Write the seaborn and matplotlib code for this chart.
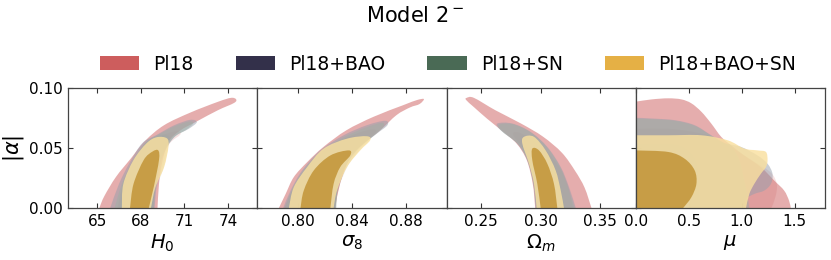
import numpy as np
import matplotlib
matplotlib.use("Agg")
import matplotlib.pyplot as plt
from matplotlib.path import Path
from matplotlib.patches import PathPatch, Patch
from matplotlib.ticker import FormatStrFormatter
import seaborn as sns

# ---------------- data (contour outlines) ----------------
datasets = ["Pl18", "Pl18+BAO", "Pl18+SN", "Pl18+BAO+SN"]
params = ["H0", "s8", "Om", "mu"]
xlabels = [r"$H_0$", r"$\sigma_8$", r"$\Omega_m$", r"$\mu$"]
xlims = [(63.0, 76.0), (0.770, 0.910), (0.221, 0.380), (0.0, 1.785)]
xticks = [[65, 68, 71, 74], [0.80, 0.84, 0.88], [0.25, 0.30, 0.35], [0.0, 0.5, 1.0, 1.5]]
xfmt = ["%d", "%.2f", "%.2f", "%.1f"]
yticks = [0.00, 0.05, 0.10]
ylim = (0.0, 0.10)

# H0 vs |alpha|
H0_pl18_95 = [(65.15, 0), (65.5, 0.010), (66.3, 0.026), (67.3, 0.041), (68.3, 0.056), (69.6, 0.069),
              (71.4, 0.0795), (73.3, 0.0885), (74.2, 0.0918), (74.55, 0.0905), (74.4, 0.0875),
              (73.3, 0.0815), (71.9, 0.0725), (70.7, 0.0645), (69.9, 0.055), (69.45, 0.037),
              (69.25, 0.020), (69.15, 0)]
H0_pl18_68 = [(66.4, 0), (66.8, 0.020), (67.6, 0.040), (68.7, 0.055), (69.8, 0.062), (70.6, 0.064),
              (70.7, 0.061), (70.0, 0.054), (69.4, 0.040), (69.0, 0.020), (68.9, 0)]
H0_bao_95 = [(65.9, 0), (66.5, 0.020), (67.2, 0.037), (68.1, 0.054), (69.1, 0.061), (70.3, 0.069),
             (71.4, 0.0735), (71.85, 0.0715), (71.3, 0.066), (70.3, 0.059), (69.5, 0.043),
             (69.1, 0.020), (68.95, 0)]
H0_bao_68 = [(66.5, 0), (66.8, 0.020), (67.5, 0.040), (68.4, 0.055), (69.3, 0.061), (69.95, 0.060),
             (69.9, 0.052), (69.6, 0.035), (69.1, 0.017), (68.8, 0)]
H0_sn_95 = [(66.2, 0), (66.7, 0.020), (67.4, 0.038), (68.3, 0.054), (69.2, 0.061), (70.3, 0.068),
            (71.3, 0.072), (71.6, 0.0705), (71.1, 0.065), (70.2, 0.058), (69.4, 0.042),
            (69.0, 0.020), (68.9, 0)]
H0_sn_68 = [(66.6, 0), (66.9, 0.020), (67.6, 0.040), (68.5, 0.054), (69.3, 0.060), (69.9, 0.059),
            (69.8, 0.051), (69.5, 0.034), (69.0, 0.017), (68.75, 0)]
H0_all_95 = [(66.7, 0), (66.8, 0.020), (67.5, 0.040), (68.4, 0.054), (69.1, 0.059), (69.8, 0.058),
             (69.9, 0.051), (69.6, 0.034), (69.0, 0.017), (68.7, 0)]
H0_all_68 = [(67.26, 0), (67.5, 0.020), (68.2, 0.040), (68.8, 0.047), (69.2, 0.048), (69.25, 0.040),
             (68.9, 0.018), (68.55, 0)]

# sigma8 vs |alpha|
s8_pl18_95 = [(0.786, 0), (0.791, 0.0117), (0.797, 0.0257), (0.807, 0.0383), (0.819, 0.0509),
              (0.836, 0.0648), (0.856, 0.076), (0.878, 0.0857), (0.888, 0.0899), (0.8933, 0.0908),
              (0.890, 0.0866), (0.883, 0.0838), (0.873, 0.0774), (0.861, 0.0648), (0.8486, 0.0536),
              (0.8388, 0.0425), (0.8327, 0.0257), (0.829, 0.009), (0.8278, 0)]
s8_pl18_68 = [(0.790, 0), (0.796, 0.015), (0.805, 0.031), (0.818, 0.046), (0.835, 0.058), (0.852, 0.065),
              (0.858, 0.064), (0.850, 0.056), (0.840, 0.044), (0.833, 0.027), (0.829, 0.010), (0.828, 0)]
s8_bao_95 = [(0.7892, 0), (0.7946, 0.0145), (0.8032, 0.0313), (0.8167, 0.048), (0.8339, 0.0606),
             (0.8511, 0.069), (0.8646, 0.0727), (0.8663, 0.069), (0.8585, 0.062), (0.8462, 0.0509),
             (0.8364, 0.0369), (0.8302, 0.0201), (0.8278, 0)]
s8_bao_68 = [(0.793, 0), (0.797, 0.015), (0.806, 0.032), (0.818, 0.047), (0.834, 0.056), (0.850, 0.060),
             (0.853, 0.057), (0.846, 0.049), (0.837, 0.035), (0.830, 0.016), (0.828, 0)]
s8_sn_95 = [(0.7905, 0), (0.7955, 0.0145), (0.804, 0.031), (0.8175, 0.047), (0.834, 0.059),
            (0.850, 0.067), (0.862, 0.071), (0.8635, 0.068), (0.857, 0.061), (0.845, 0.050),
            (0.836, 0.036), (0.830, 0.020), (0.8285, 0)]
s8_sn_68 = [(0.794, 0), (0.798, 0.015), (0.807, 0.032), (0.819, 0.046), (0.834, 0.055), (0.849, 0.059),
            (0.852, 0.056), (0.845, 0.048), (0.836, 0.034), (0.830, 0.016), (0.8275, 0)]
s8_all_95 = [(0.7934, 0), (0.797, 0.0173), (0.8069, 0.0341), (0.8191, 0.0495), (0.8364, 0.0578),
             (0.8511, 0.0598), (0.8535, 0.0564), (0.8462, 0.048), (0.8364, 0.0341), (0.829, 0.0145),
             (0.8265, 0)]
s8_all_68 = [(0.802, 0), (0.8044, 0.0145), (0.8118, 0.0313), (0.8241, 0.0438), (0.8376, 0.048),
             (0.8388, 0.0438), (0.8314, 0.0341), (0.8265, 0.0201), (0.8241, 0)]

# Omega_m vs |alpha|
Om_pl18_95 = [(0.2955, 0), (0.2935, 0.020), (0.2885, 0.0397), (0.2800, 0.0536), (0.2680, 0.0640),
              (0.2550, 0.0745), (0.2441, 0.0840), (0.2375, 0.0900), (0.2380, 0.0918), (0.2440, 0.0918),
              (0.2620, 0.0815), (0.2834, 0.0705), (0.3020, 0.0595), (0.3180, 0.0460), (0.3290, 0.0310),
              (0.3370, 0.0170), (0.3428, 0)]
Om_pl18_68 = [(0.2975, 0), (0.2965, 0.020), (0.293, 0.036), (0.286, 0.049), (0.277, 0.061),
              (0.281, 0.063), (0.291, 0.058), (0.305, 0.047), (0.317, 0.032), (0.324, 0.015), (0.327, 0)]
Om_bao_95 = [(0.2959, 0), (0.2939, 0.0201), (0.2889, 0.0397), (0.2805, 0.0536), (0.2665, 0.0648),
             (0.2637, 0.0704), (0.2763, 0.0704), (0.2917, 0.0634), (0.3057, 0.0509), (0.317, 0.0341),
             (0.324, 0.0173), (0.3296, 0)]
Om_bao_68 = [(0.2965, 0), (0.2945, 0.020), (0.290, 0.038), (0.2845, 0.053), (0.2865, 0.059),
             (0.2955, 0.058), (0.305, 0.047), (0.313, 0.031), (0.3175, 0.014), (0.3205, 0)]
Om_sn_95 = [(0.2962, 0), (0.2942, 0.020), (0.2893, 0.039), (0.2812, 0.053), (0.2675, 0.064),
            (0.2650, 0.0695), (0.2770, 0.0698), (0.2920, 0.0628), (0.3055, 0.0505), (0.3165, 0.034),
            (0.3232, 0.017), (0.3285, 0)]
Om_sn_68 = [(0.2968, 0), (0.2948, 0.020), (0.2905, 0.037), (0.2850, 0.052), (0.2870, 0.058),
            (0.2950, 0.0575), (0.3045, 0.046), (0.3125, 0.030), (0.3168, 0.014), (0.3198, 0)]
Om_all_95 = [(0.2967, 0), (0.2945, 0.0201), (0.2903, 0.0369), (0.2847, 0.0536), (0.2861, 0.0593),
             (0.2945, 0.0593), (0.3043, 0.048), (0.3127, 0.0313), (0.317, 0.0145), (0.3197, 0)]
Om_all_68 = [(0.3001, 0), (0.2973, 0.0201), (0.2931, 0.0397), (0.2931, 0.0495), (0.2987, 0.048),
             (0.3057, 0.0369), (0.3113, 0.0201), (0.3141, 0)]

# mu vs |alpha|
mu_pl18_95 = [(0, 0.0886), (0.15, 0.0905), (0.306, 0.0914), (0.431, 0.0905), (0.525, 0.0872),
              (0.619, 0.0802), (0.712, 0.0704), (0.806, 0.0593), (0.9, 0.0522), (1.024, 0.0438),
              (1.18, 0.0341), (1.306, 0.0229), (1.4, 0.0145), (1.446, 0.0061), (1.462, 0)]
mu_pl18_68 = [(0, 0.066), (0.3, 0.066), (0.5, 0.064), (0.7, 0.060), (0.85, 0.053), (1.0, 0.045),
              (1.15, 0.037), (1.28, 0.029), (1.33, 0.020), (1.32, 0.010), (1.28, 0)]
mu_bao_95 = [(0, 0.0752), (0.15, 0.0746), (0.368, 0.0732), (0.556, 0.069), (0.712, 0.0606),
             (0.837, 0.0542), (0.993, 0.0509), (1.149, 0.0438), (1.243, 0.0369), (1.29, 0.0285),
             (1.275, 0.0201), (1.212, 0.0145), (1.118, 0.0117), (1.04, 0.0075), (1.024, 0)]
mu_bao_68 = [(0, 0.054), (0.3, 0.054), (0.46, 0.051), (0.572, 0.0397), (0.603, 0.0201), (0.619, 0)]
mu_sn_95 = [(0, 0.0745), (0.15, 0.074), (0.368, 0.0727), (0.556, 0.0685), (0.712, 0.0603),
            (0.837, 0.054), (0.9, 0.0520), (0.978, 0.0397), (1.024, 0.0229), (1.056, 0.009), (1.071, 0)]
mu_sn_68 = [(0, 0.053), (0.3, 0.053), (0.45, 0.050), (0.56, 0.039), (0.59, 0.020), (0.60, 0)]
mu_all_95 = [(0, 0.0606), (0.306, 0.0606), (0.619, 0.0606), (0.868, 0.0564), (1.024, 0.0495),
             (1.149, 0.048), (1.228, 0.0467), (1.243, 0.0397), (1.228, 0.0341), (1.18, 0.0285),
             (1.118, 0.0201), (1.071, 0.0117), (1.04, 0)]
mu_all_68 = [(0, 0.048), (0.306, 0.0467), (0.462, 0.041), (0.556, 0.0313), (0.572, 0.0201),
             (0.525, 0.009), (0.447, 0)]

contours = {
    "H0": [(H0_pl18_95, H0_pl18_68), (H0_bao_95, H0_bao_68), (H0_sn_95, H0_sn_68), (H0_all_95, H0_all_68)],
    "s8": [(s8_pl18_95, s8_pl18_68), (s8_bao_95, s8_bao_68), (s8_sn_95, s8_sn_68), (s8_all_95, s8_all_68)],
    "Om": [(Om_pl18_95, Om_pl18_68), (Om_bao_95, Om_bao_68), (Om_sn_95, Om_sn_68), (Om_all_95, Om_all_68)],
    "mu": [(mu_pl18_95, mu_pl18_68), (mu_bao_95, mu_bao_68), (mu_sn_95, mu_sn_68), (mu_all_95, mu_all_68)],
}

# ---------------- style ----------------
legend_colors = ["#cd5d5d", "#33304a", "#4a6a55", "#e5b045"]
fill_95 = [("#cd5c5c", 0.50), ("#969eac", 0.50), ("#9eb0a5", 0.50), ("#f9e09f", 0.82)]
fill_68 = [("#cd5c5c", 0.18), ("#969eac", 0.18), ("#9eb0a5", 0.18), ("#c29436", 0.85)]

sns.set_theme(style="ticks")
plt.rcParams["font.family"] = ["DejaVu Sans"]
plt.rcParams["mathtext.fontset"] = "dejavusans"
for key in ["text.color", "axes.labelcolor", "xtick.labelcolor", "ytick.labelcolor"]:
    plt.rcParams[key] = "black"


def smooth_path(pts, corner=None):
    P = np.asarray(pts, dtype=float)
    n = len(P)
    verts = [P[0]]
    codes = [Path.MOVETO]
    for i in range(n - 1):
        p0 = P[i - 1] if i > 0 else P[i]
        p1 = P[i]
        p2 = P[i + 1]
        p3 = P[i + 2] if i + 2 < n else P[i + 1]
        verts += [p1 + (p2 - p0) / 6.0, p2 - (p3 - p1) / 6.0, p2]
        codes += [Path.CURVE4] * 3
    if corner is not None:
        verts.append(np.asarray(corner, float))
        codes.append(Path.LINETO)
    verts.append(P[0])
    codes.append(Path.CLOSEPOLY)
    return Path(verts, codes)


fig = plt.figure(figsize=(8.31, 2.60), dpi=100)
fig.subplots_adjust(left=68 / 831, right=825 / 831, bottom=52 / 260, top=172 / 260, wspace=0)
axes = fig.subplots(1, 4, sharey=True)

for k, (ax, p) in enumerate(zip(axes, params)):
    corner = (xlims[k][0], 0.0) if p == "mu" else None
    for d, (c95, c68) in enumerate(contours[p]):
        col, a = fill_95[d]
        ax.add_patch(PathPatch(smooth_path(c95, corner), facecolor=col, alpha=a, edgecolor="none", lw=0))
        col, a = fill_68[d]
        ax.add_patch(PathPatch(smooth_path(c68, corner), facecolor=col, alpha=a, edgecolor="none", lw=0))
    ax.set_xlim(*xlims[k])
    ax.set_ylim(*ylim)
    ax.set_xticks(xticks[k])
    ax.xaxis.set_major_formatter(FormatStrFormatter(xfmt[k]))
    ax.set_yticks(yticks)
    ax.yaxis.set_major_formatter(FormatStrFormatter("%.2f"))
    ax.tick_params(direction="in", top=True, right=True, length=3.5, width=0.8,
                   labelsize=11, colors="#333333", labelcolor="black", pad=4)
    ax.set_xlabel(xlabels[k], fontsize=14, labelpad=3)
    for s in ax.spines.values():
        s.set_color("#444444")
        s.set_linewidth(0.9)
    if k > 0:
        ax.tick_params(labelleft=False)

axes[0].set_ylabel(r"$|\alpha|$", fontsize=15, labelpad=2)

handles = [Patch(facecolor=c, edgecolor="none") for c in legend_colors]
fig.legend(handles, datasets, loc="center", bbox_to_anchor=(448 / 831, 1 - 64 / 260), ncol=4,
           frameon=False, fontsize=13.5, handlelength=2.1, handleheight=0.72,
           handletextpad=0.75, columnspacing=2.25)
fig.suptitle(r"Model 2$^-$", x=0.5, y=1 - 16 / 260, va="center", fontsize=15)

fig.savefig("out.png", dpi=100)
